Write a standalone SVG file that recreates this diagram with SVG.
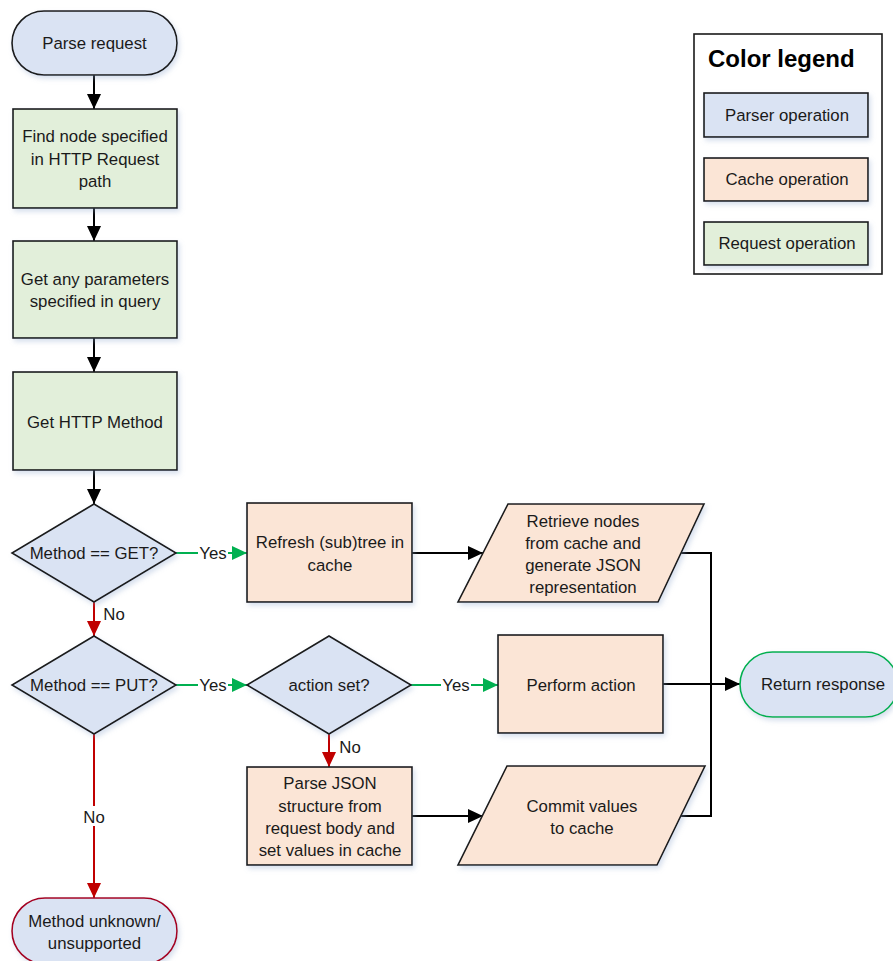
<svg xmlns="http://www.w3.org/2000/svg" width="893" height="961" viewBox="0 0 893 961">
  <defs>
    <filter id="shadow" x="-10%" y="-10%" width="125%" height="135%">
      <feDropShadow dx="2" dy="3" stdDeviation="2.5" flood-color="#8ea6cf" flood-opacity="0.35"/>
    </filter>
    <marker id="arrow-black" markerUnits="userSpaceOnUse" markerWidth="16" markerHeight="14" refX="15" refY="7" orient="auto">
      <path d="M0,0 L15,7 L0,14 Z" fill="#000"/>
    </marker>
    <marker id="arrow-green" markerUnits="userSpaceOnUse" markerWidth="16" markerHeight="14" refX="15" refY="7" orient="auto">
      <path d="M0,0 L15,7 L0,14 Z" fill="#00b050"/>
    </marker>
    <marker id="arrow-red" markerUnits="userSpaceOnUse" markerWidth="16" markerHeight="14" refX="15" refY="7" orient="auto">
      <path d="M0,0 L15,7 L0,14 Z" fill="#c00000"/>
    </marker>
  </defs>
  <style>
    text { font-family: "Liberation Sans", Arial, sans-serif; font-size: 16.8px; fill: #1a1a1a; text-anchor: middle; }
    .node { stroke: #1a1a1a; stroke-width: 1.6; filter: url(#shadow); }
    .parser { fill: #dae3f3; }
    .cache { fill: #fbe5d6; }
    .request { fill: #e2efda; }
    .conn { fill: none; stroke-width: 2; }
    .black { stroke: #000; }
    .green { stroke: #00b050; }
    .red { stroke: #c00000; }
  </style>

  <rect width="893" height="961" fill="#fff"/>

  <!-- connectors -->
  <g id="connectors">
    <line class="conn black" x1="94" y1="75" x2="94" y2="109" marker-end="url(#arrow-black)"/>
    <line class="conn black" x1="94" y1="208" x2="94" y2="241" marker-end="url(#arrow-black)"/>
    <line class="conn black" x1="94" y1="338" x2="94" y2="372" marker-end="url(#arrow-black)"/>
    <line class="conn black" x1="94" y1="470" x2="94" y2="504" marker-end="url(#arrow-black)"/>

    <line class="conn green" x1="176" y1="553" x2="247" y2="553" marker-end="url(#arrow-green)"/>
    <line class="conn black" x1="412" y1="553" x2="483" y2="553" marker-end="url(#arrow-black)"/>
    <polyline class="conn black" points="681,553 711,553 711,816 681,816"/>
    <line class="conn black" x1="663" y1="684" x2="740" y2="684" marker-end="url(#arrow-black)"/>

    <line class="conn red" x1="94" y1="602" x2="94" y2="636" marker-end="url(#arrow-red)"/>
    <line class="conn green" x1="176" y1="685" x2="247" y2="685" marker-end="url(#arrow-green)"/>
    <line class="conn green" x1="411" y1="685" x2="498" y2="685" marker-end="url(#arrow-green)"/>
    <line class="conn red" x1="329" y1="734" x2="329" y2="767" marker-end="url(#arrow-red)"/>
    <line class="conn black" x1="412" y1="816" x2="483" y2="816" marker-end="url(#arrow-black)"/>
    <line class="conn red" x1="94" y1="734" x2="94" y2="898" marker-end="url(#arrow-red)"/>

    <!-- connector labels -->
    <rect x="198" y="544" width="30" height="18" fill="#fff"/>
    <text x="213" y="559">Yes</text>
    <rect x="198" y="676" width="30" height="18" fill="#fff"/>
    <text x="213" y="691">Yes</text>
    <rect x="441" y="676" width="30" height="18" fill="#fff"/>
    <text x="456" y="691">Yes</text>
    <text x="114" y="620">No</text>
    <text x="350" y="753">No</text>
    <rect x="81" y="806" width="26" height="20" fill="#fff"/>
    <text x="94" y="823">No</text>
  </g>

  <g id="parse-request">
    <rect class="node parser" x="12" y="11" width="165" height="64" rx="32" ry="32"/>
    <text x="94.5" y="49">Parse request</text>
  </g>

  <g id="find-node">
    <rect class="node request" x="13" y="109" width="164" height="99"/>
    <text x="95" y="142">Find node specified</text>
    <text x="95" y="165">in HTTP Request</text>
    <text x="95" y="187">path</text>
  </g>

  <g id="get-parameters">
    <rect class="node request" x="13" y="241" width="164" height="97"/>
    <text x="95" y="285">Get any parameters</text>
    <text x="95" y="307">specified in query</text>
  </g>

  <g id="get-method">
    <rect class="node request" x="13" y="372" width="164" height="98"/>
    <text x="95" y="428">Get HTTP Method</text>
  </g>

  <g id="is-get">
    <polygon class="node parser" points="94,504 176,553 94,602 12,553"/>
    <text x="94" y="559">Method == GET?</text>
  </g>

  <g id="refresh-tree">
    <rect class="node cache" x="247" y="503" width="165" height="99"/>
    <text x="330" y="548">Refresh (sub)tree in</text>
    <text x="330" y="571">cache</text>
  </g>

  <g id="retrieve-nodes">
    <polygon class="node cache" points="508,504 704,504 658,602 458,602"/>
    <text x="583" y="527">Retrieve nodes</text>
    <text x="583" y="549">from cache and</text>
    <text x="583" y="571">generate JSON</text>
    <text x="583" y="593">representation</text>
  </g>

  <g id="is-put">
    <polygon class="node parser" points="94,636 176,685 94,734 12,685"/>
    <text x="94" y="691">Method == PUT?</text>
  </g>

  <g id="action-set">
    <polygon class="node parser" points="329,636 411,685 329,734 247,685"/>
    <text x="329" y="691">action set?</text>
  </g>

  <g id="perform-action">
    <rect class="node cache" x="498" y="635" width="165" height="98"/>
    <text x="581" y="691">Perform action</text>
  </g>

  <g id="parse-json">
    <rect class="node cache" x="247" y="767" width="165" height="98"/>
    <text x="330" y="789">Parse JSON</text>
    <text x="330" y="812">structure from</text>
    <text x="330" y="834">request body and</text>
    <text x="330" y="856">set values in cache</text>
  </g>

  <g id="commit-values">
    <polygon class="node cache" points="507,766 705,766 657,865 458,865"/>
    <text x="582" y="812">Commit values</text>
    <text x="582" y="834">to cache</text>
  </g>

  <g id="return-response">
    <rect class="node parser" x="740" y="652" width="158" height="65" rx="32.5" ry="32.5" style="stroke:#00b050"/>
    <text x="823" y="690">Return response</text>
  </g>

  <g id="method-unknown">
    <rect class="node parser" x="12" y="898" width="165" height="66" rx="33" ry="33" style="stroke:#a50021"/>
    <text x="94.5" y="927">Method unknown/</text>
    <text x="94.5" y="949">unsupported</text>
  </g>

  <g id="legend">
    <rect x="694" y="34" width="188" height="240" fill="#fff" stroke="#1a1a1a" stroke-width="1.6"/>
    <text x="708" y="67" style="text-anchor:start;font-weight:bold;font-size:24px;fill:#000">Color legend</text>
    <g id="legend-parser">
      <rect class="node parser" x="704" y="93" width="164" height="44"/>
      <text x="787" y="121">Parser operation</text>
    </g>
    <g id="legend-cache">
      <rect class="node cache" x="704" y="158" width="164" height="43"/>
      <text x="787" y="185">Cache operation</text>
    </g>
    <g id="legend-request">
      <rect class="node request" x="704" y="222" width="164" height="43"/>
      <text x="787" y="249">Request operation</text>
    </g>
  </g>
</svg>
